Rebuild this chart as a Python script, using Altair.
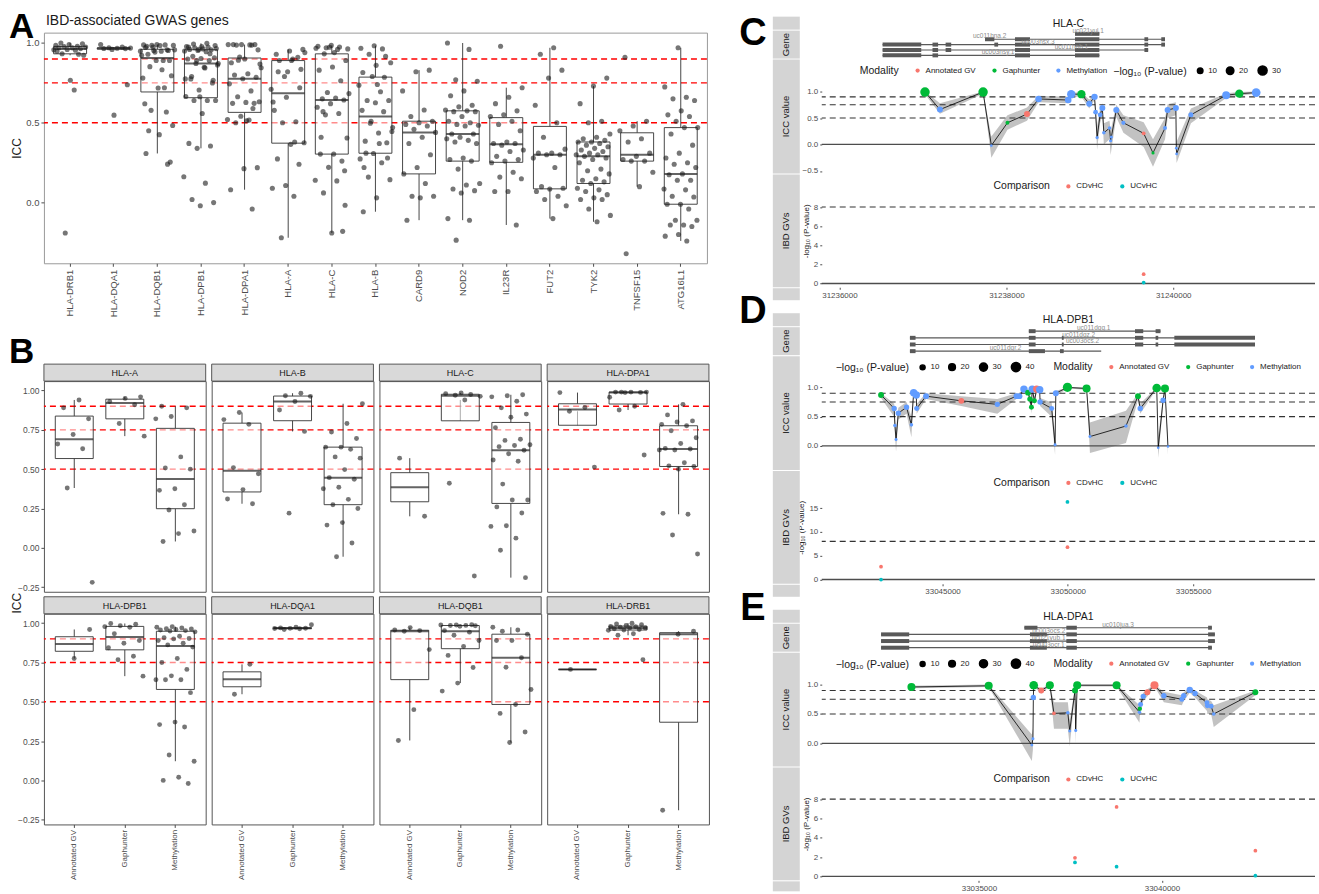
import altair as alt
import pandas as pd

FONT = "Liberation Sans"
GV, GH, ME = "Annotated GV", "Gaphunter", "Methylation"
MODS = [GV, GH, ME]
MOD_COLORS = ["#F8766D", "#00BA38", "#619CFF"]
CMPS = ["CDvHC", "UCvHC"]
CMP_COLORS = ["#F8766D", "#00BFC4"]
REF_ICC = [0.5, 0.75, 0.9]

# ---------------- Panel B data (ICC by HLA gene and modality) ----------------
b_A_gv = [0.94, 0.89, 0.82, 0.72, 0.66, 0.63, 0.38, -0.22]
b_A_gap = [0.96, 0.95, 0.93, 0.91, 0.79, 0.71]
b_A_met = [0.90, 0.89, 0.835, 0.82, 0.578, 0.507, 0.50, 0.375, 0.365, 0.274, 0.24, 0.107, 0.09, 0.04]
b_B_gv = [0.86, 0.815, 0.785, 0.51, 0.47, 0.37, 0.31, 0.28]
b_B_gap = [0.983, 0.967, 0.963, 0.93, 0.876, 0.74, 0.22]
b_B_met = [0.916, 0.79, 0.736, 0.695, 0.64, 0.64, 0.626, 0.578, 0.57, 0.497, 0.446, 0.436, 0.385, 0.375,
           0.308, 0.274, 0.25, 0.16, 0.144, 0.03, -0.057]
b_C_gv = [0.57, 0.20]
b_C_gap = [0.985, 0.98, 0.975, 0.97, 0.963, 0.94, 0.41, -0.18]
b_C_met = [0.973, 0.967, 0.96, 0.932, 0.89, 0.85, 0.83, 0.764, 0.69, 0.683, 0.655, 0.65, 0.643, 0.62, 0.598,
           0.558, 0.55, 0.405, 0.304, 0.304, 0.26, 0.221, 0.14, 0.136, 0.061, -0.016, -0.19]
b_DPA1_gv = [0.987, 0.892, 0.868, 0.513]
b_DPA1_gap = [0.99, 0.99, 0.99, 0.99, 0.988, 0.987, 0.957, 0.90, 0.876, 0.59]
b_DPA1_met = [0.912, 0.845, 0.807, 0.80, 0.785, 0.776, 0.744, 0.70, 0.663, 0.632, 0.628, 0.622, 0.622, 0.541,
              0.521, 0.517, 0.50, 0.219, 0.213, 0.081, -0.04]
b_DPB1_gv = [0.96, 0.775]
b_DPB1_gap = [0.998, 0.994, 0.984, 0.978, 0.974, 0.933, 0.89, 0.872, 0.844, 0.79, 0.767, 0.663]
b_DPB1_met = [0.978, 0.974, 0.97, 0.965, 0.963, 0.96, 0.957, 0.953, 0.95, 0.945, 0.917, 0.907, 0.903, 0.90,
              0.89, 0.872, 0.862, 0.848, 0.775, 0.75, 0.706, 0.665, 0.64, 0.64, 0.64, 0.558, 0.371, 0.355,
              0.34, 0.162, 0.122, 0.02, 0.0, -0.02]
b_DQA1_gv = [0.738, 0.548]
b_DQA1_gap = [0.99, 0.974, 0.97, 0.968, 0.967, 0.966, 0.965, 0.96]
b_DQA1_met = []
b_DQB1_gv = [0.972, 0.957, 0.953, 0.949, 0.832, 0.45, 0.254]
b_DQB1_gap = [0.99, 0.988, 0.988, 0.986, 0.985, 0.984, 0.98, 0.953, 0.943, 0.923, 0.89, 0.852, 0.795, 0.718,
              0.619, 0.568]
b_DQB1_met = [0.974, 0.957, 0.949, 0.93, 0.89, 0.89, 0.78, 0.72, 0.578, 0.483, 0.426, 0.308, 0.241]
b_DRB1_gv = [0.706]
b_DRB1_gap = [1.0, 0.995, 0.99, 0.985, 0.98, 0.978, 0.975, 0.97, 0.97, 0.965, 0.96, 0.957, 0.955, 0.933,
              0.923, 0.767]
b_DRB1_met = [0.949, 0.93, -0.19]

HLA_SETS = {
    "HLA-A": (b_A_gv, b_A_gap, b_A_met),
    "HLA-B": (b_B_gv, b_B_gap, b_B_met),
    "HLA-C": (b_C_gv, b_C_gap, b_C_met),
    "HLA-DPA1": (b_DPA1_gv, b_DPA1_gap, b_DPA1_met),
    "HLA-DPB1": (b_DPB1_gv, b_DPB1_gap, b_DPB1_met),
    "HLA-DQA1": (b_DQA1_gv, b_DQA1_gap, b_DQA1_met),
    "HLA-DQB1": (b_DQB1_gv, b_DQB1_gap, b_DQB1_met),
    "HLA-DRB1": (b_DRB1_gv, b_DRB1_gap, b_DRB1_met),
}
B_GENES = ["HLA-A", "HLA-B", "HLA-C", "HLA-DPA1", "HLA-DPB1", "HLA-DQA1", "HLA-DQB1", "HLA-DRB1"]

# ---------------- Panel A data (other IBD GWAS genes) ----------------
a_card9 = [0.83, 0.82, 0.70, 0.58, 0.54, 0.51, 0.50, 0.49, 0.48, 0.46, 0.44, 0.41, 0.37, 0.30, 0.22, 0.18,
           0.12, 0.04, 0.04, 0.03, -0.11]
a_nod2 = [1.0, 0.96, 0.77, 0.76, 0.70, 0.67, 0.61, 0.60, 0.58, 0.575, 0.57, 0.57, 0.54, 0.51, 0.50, 0.49,
          0.485, 0.48, 0.43, 0.43, 0.41, 0.40, 0.39, 0.38, 0.37, 0.28, 0.27, 0.26, 0.21, 0.12, 0.11, 0.085,
          0.075, 0.06, -0.10, -0.11, -0.235]
a_il23r = [0.98, 0.72, 0.66, 0.62, 0.575, 0.55, 0.54, 0.51, 0.49, 0.45, 0.38, 0.37, 0.37, 0.36, 0.33, 0.32,
           0.29, 0.27, 0.26, 0.25, 0.19, 0.16, 0.15, 0.07, 0.07, -0.14]
a_fut2 = [0.97, 0.93, 0.83, 0.78, 0.61, 0.50, 0.41, 0.335, 0.31, 0.31, 0.30, 0.30, 0.28, 0.22, 0.10, 0.09,
          0.085, 0.07, 0.04, 0.02, -0.02, -0.10]
a_tyk2 = [0.78, 0.73, 0.62, 0.51, 0.50, 0.43, 0.41, 0.40, 0.39, 0.38, 0.38, 0.37, 0.36, 0.35, 0.34, 0.33,
          0.32, 0.31, 0.30, 0.30, 0.29, 0.28, 0.27, 0.25, 0.21, 0.20, 0.18, 0.15, 0.14, 0.13, 0.12, 0.09,
          0.08, 0.07, 0.05, 0.03, 0.02, 0.02, -0.04, -0.08, -0.12]
a_tnfsf15 = [0.91, 0.51, 0.48, 0.45, 0.40, 0.38, 0.31, 0.29, 0.27, 0.26, 0.26, 0.19, 0.10, -0.32]
a_atg16l1 = [0.97, 0.725, 0.66, 0.65, 0.64, 0.575, 0.55, 0.54, 0.51, 0.47, 0.47, 0.43, 0.36, 0.31, 0.28,
             0.25, 0.24, 0.22, 0.18, 0.175, 0.14, 0.14, 0.085, 0.08, 0.04, 0.035, -0.01, -0.01, -0.04,
             -0.11, -0.11, -0.14, -0.14, -0.15, -0.20, -0.21, -0.24]
OTHER_SETS = {"CARD9": a_card9, "NOD2": a_nod2, "IL23R": a_il23r, "FUT2": a_fut2, "TYK2": a_tyk2,
              "TNFSF15": a_tnfsf15, "ATG16L1": a_atg16l1}
A_ORDER = ["HLA-DRB1", "HLA-DQA1", "HLA-DQB1", "HLA-DPB1", "HLA-DPA1", "HLA-A", "HLA-C", "HLA-B",
           "CARD9", "NOD2", "IL23R", "FUT2", "TYK2", "TNFSF15", "ATG16L1"]

# ---------------- Panel C (HLA-C) ----------------
c_pos = [31237025, 31237204, 31237721, 31237820, 31238013, 31238247, 31238386, 31238741, 31238777, 31238899,
         31238993, 31239056, 31239069, 31239087, 31239123, 31239150, 31239168, 31239236, 31239249, 31239258,
         31239317, 31239402, 31239645, 31239757, 31239901, 31239932, 31240031, 31240036, 31240040, 31240211,
         31240633, 31240791, 31240993]
c_icc = [0.99, 0.66, 0.99, -0.02, 0.41, 0.575, 0.86, 0.84, 0.95, 0.95, 0.77, 0.90, 0.61, 0.13, 0.56, 0.69,
         0.22, 0.31, 0.07, 0.14, 0.65, 0.41, 0.21, -0.16, 0.31, 0.65, 0.69, -0.07, -0.18, 0.56, 0.93, 0.96, 0.98]
c_lo = [0.95, 0.58, 0.96, -0.25, 0.28, 0.45, 0.80, 0.78, 0.90, 0.90, 0.68, 0.84, 0.45, -0.10, 0.40, 0.55,
        0.00, 0.10, -0.20, -0.10, 0.52, 0.22, -0.05, -0.42, 0.10, 0.50, 0.55, -0.25, -0.35, 0.40, 0.88, 0.92, 0.96]
c_hi = [1.00, 0.78, 1.00, 0.15, 0.55, 0.70, 0.92, 0.90, 0.98, 0.98, 0.85, 0.94, 0.72, 0.35, 0.68, 0.78,
        0.40, 0.45, 0.25, 0.32, 0.75, 0.55, 0.42, 0.10, 0.50, 0.76, 0.80, 0.15, 0.05, 0.68, 0.97, 0.99, 1.00]
c_mod = [GH, ME, GH, ME, GH, GV, ME, ME, ME, GH, ME, ME, ME, ME, ME, ME, ME, ME, ME, ME, ME, ME, GV, GH,
         ME, ME, ME, ME, ME, ME, ME, GH, ME]
c_p = [33, 12, 33, 1, 4, 12, 15, 15, 25, 25, 12, 14, 7, 2, 7, 12, 3, 3, 2, 2, 12, 5, 4, 2, 4, 12, 12, 1, 1,
       8, 22, 25, 28]
c_gwas_pos = [31239645, 31239645]
c_gwas_p = [0.97, 0.1]
c_gwas_cmp = ["CDvHC", "UCvHC"]
c_tx_row = [1, 2, 3, 4, 5]
c_tx_start = [31238822, 31237744, 31236517, 31236517, 31236517]
c_tx_end = [31239114, 31239901, 31239901, 31239699, 31239114]
c_tx_name = ["uc021yul.1", "uc011hna.2", "uc003nsx.3", "uc011hnb.1", "uc003nsy.1"]
c_tx_lab = [31238980, 31237800, 31238380, 31238780, 31237900]
c_ex_row = [1, 2, 2, 2, 2, 2, 3, 3, 3, 3, 3, 3, 3, 3, 4, 4, 4, 4, 4, 4, 5, 5, 5, 5]
c_ex_start = [31238822, 31237744, 31238103, 31238822, 31239654, 31239856, 31236517, 31237115, 31237272,
              31237856, 31238103, 31238822, 31239654, 31239856, 31236517, 31237115, 31237272, 31238103,
              31238822, 31239654, 31236517, 31237115, 31238103, 31238822]
c_ex_end = [31239114, 31237856, 31238283, 31239114, 31239699, 31239901, 31236980, 31237182, 31237339,
            31237901, 31238283, 31239114, 31239699, 31239901, 31236980, 31237182, 31237339, 31238283,
            31239114, 31239699, 31236980, 31237182, 31238283, 31239114]

# ---------------- Panel D (HLA-DPB1) ----------------
d_pos = [33042545, 33043069, 33043099, 33043144, 33043234, 33043563, 33043757, 33043847, 33043952, 33043967,
         33044341, 33045749, 33047186, 33047949, 33048069, 33048248, 33048413, 33048488, 33048548, 33048578,
         33048668, 33048757, 33048877, 33048892, 33049356, 33049491, 33049521, 33049985, 33050748, 33050883,
         33052320, 33052799, 33052889, 33053548, 33053608, 33053802, 33053877, 33053997]
d_icc = [0.87, 0.64, 0.35, 0.11, 0.56, 0.66, 0.36, 0.91, 0.87, 0.64, 0.85, 0.77, 0.71, 0.85, 0.85, 0.97,
         0.91, 0.80, 0.66, 0.97, 0.77, 0.97, 0.96, 0.75, 0.64, 0.02, 0.90, 1.0, 0.98, 0.16, 0.34, 0.85, 0.64,
         0.99, -0.03, 0.78, 0.98, -0.01]
d_lo = [0.82, 0.50, 0.20, -0.10, 0.45, 0.55, 0.15, 0.85, 0.80, 0.55, 0.80, 0.68, 0.55, 0.80, 0.80, 0.94,
        0.86, 0.72, 0.55, 0.94, 0.70, 0.94, 0.93, 0.68, 0.50, -0.15, 0.85, 0.98, 0.96, -0.12, 0.05, 0.78,
        0.55, 0.97, -0.20, 0.70, 0.96, -0.15]
d_hi = [0.90, 0.72, 0.50, 0.30, 0.65, 0.75, 0.50, 0.95, 0.92, 0.72, 0.90, 0.85, 0.80, 0.90, 0.90, 0.99,
        0.95, 0.86, 0.75, 0.99, 0.84, 0.99, 0.98, 0.82, 0.74, 0.20, 0.94, 1.00, 1.00, 0.40, 0.60, 0.90,
        0.72, 1.00, 0.15, 0.85, 1.00, 0.12]
d_mod = [GH, ME, ME, ME, ME, ME, ME, ME, ME, ME, ME, GV, ME, ME, ME, ME, GH, GH, GH, ME, GH, GV, ME, ME,
         ME, ME, ME, GH, GH, ME, ME, GH, ME, GH, ME, ME, GH, ME]
d_p = [15, 12, 4, 2, 12, 12, 4, 25, 25, 10, 15, 15, 12, 15, 15, 25, 15, 12, 10, 25, 10, 25, 25, 12, 10, 2,
       15, 40, 30, 2, 4, 15, 12, 35, 1, 12, 30, 1]
d_gwas_pos = [33042545, 33042545, 33049985, 33049985]
d_gwas_p = [2.7, 0.0, 6.8, 16.3]
d_gwas_cmp = ["CDvHC", "UCvHC", "CDvHC", "UCvHC"]
d_tx_row = [1, 2, 3, 4]
d_tx_start = [33048443, 33043698, 33043698, 33043698]
d_tx_end = [33053698, 33057470, 33057470, 33051332]
d_tx_name = ["uc011dqq.1", "uc011dqz.2", "uc003ocs.2", "uc011dqr.2"]
d_tx_lab = [33051033, 33050434, 33050584, 33047515]
d_ex_row = [1, 1, 1, 2, 2, 2, 2, 2, 2, 3, 3, 3, 3, 3, 3, 4, 4, 4]
d_ex_start = [33048443, 33052680, 33053503, 33043698, 33048443, 33049761, 33052680, 33053503, 33054251,
              33043698, 33048443, 33049761, 33052680, 33053503, 33054251, 33043698, 33048443, 33049686]
d_ex_end = [33048713, 33053009, 33053698, 33043922, 33048713, 33049835, 33053009, 33053608, 33057470,
            33043922, 33048713, 33049835, 33053009, 33053608, 33057470, 33043922, 33049087, 33049835]

# ---------------- Panel E (HLA-DPA1) ----------------
e_pos = [33033156, 33035266, 33036445, 33036475, 33036486, 33036496, 33036701, 33036937, 33037049, 33037428,
         33037480, 33037623, 33037643, 33037684, 33038760, 33039385, 33039395, 33039416, 33039488, 33039601,
         33039795, 33040051, 33040543, 33040594, 33040758, 33040902, 33041230, 33041240, 33041342, 33041414,
         33042551]
e_icc = [0.96, 0.98, -0.03, 0.08, 0.78, 0.99, 0.90, 0.99, 0.51, 0.52, 0.21, 0.90, 0.22, 0.99, 0.99, 0.53,
         0.59, 0.66, 0.80, 0.87, 0.99, 0.81, 0.75, 0.81, 0.91, 0.85, 0.69, 0.64, 0.63, 0.50, 0.87]
e_lo = [0.94, 0.96, -0.30, -0.10, 0.70, 0.97, 0.85, 0.97, 0.25, 0.25, -0.05, 0.85, 0.00, 0.97, 0.97, 0.35,
        0.45, 0.55, 0.72, 0.80, 0.97, 0.70, 0.65, 0.72, 0.86, 0.78, 0.55, 0.50, 0.50, 0.28, 0.82]
e_hi = [0.98, 1.00, 0.15, 0.25, 0.85, 1.00, 0.94, 1.00, 0.70, 0.70, 0.40, 0.94, 0.40, 1.00, 1.00, 0.65,
        0.70, 0.75, 0.86, 0.92, 1.00, 0.88, 0.82, 0.87, 0.95, 0.90, 0.78, 0.75, 0.72, 0.65, 0.90]
e_mod = [GH, GH, ME, ME, ME, GH, GV, GH, GV, ME, ME, GH, ME, GH, GH, ME, GH, ME, ME, GV, GV, ME, ME, ME,
         ME, ME, ME, ME, ME, ME, GH]
e_p = [30, 30, 2, 2, 12, 35, 15, 30, 4, 4, 2, 15, 2, 30, 30, 4, 7, 10, 12, 15, 30, 12, 10, 12, 18, 12, 10,
       10, 10, 4, 15]
e_gwas_pos = [33037623, 33037623, 33038760, 33038760, 33042551, 33042551]
e_gwas_p = [1.93, 1.45, 7.2, 1.0, 2.66, 0.07]
e_gwas_cmp = ["CDvHC", "UCvHC", "CDvHC", "UCvHC", "CDvHC", "UCvHC"]
e_tx_row = [1, 2, 3, 4]
e_tx_start = [33036240, 33032326, 33032326, 33032326]
e_tx_end = [33041363, 33041445, 33041445, 33041363]
e_tx_name = ["uc010jua.3", "uc003ocs.2", "uc021yub.1", "uc003ocr.1"]
e_tx_lab = [33038801, 33036906, 33036906, 33036906]
e_ex_row = [1, 1, 1, 2, 2, 2, 2, 3, 3, 3, 3, 4, 4, 4, 4]
e_ex_start = [33036240, 33037387, 33041260, 33032326, 33036393, 33037387, 33041260, 33032326, 33036393,
              33037387, 33041260, 33032326, 33036393, 33037387, 33041260]
e_ex_end = [33036598, 33037674, 33041363, 33033094, 33036855, 33037674, 33041445, 33033094, 33036855,
            33037674, 33041445, 33033094, 33036855, 33037674, 33041363]


# ---------------- helpers ----------------
def jitter(n, k):
    # deterministic horizontal jitter (fraction of a category band) - styling only
    return [(((i + 1) * 0.6180339887 + k * 0.2718) % 1.0 - 0.5) * 0.8 for i in range(n)]


def ind(c):
    return c.resolve_scale(color="independent", size="independent", xOffset="independent")


ONE = pd.DataFrame({"a": [0]})


def txt(t, x, y, **kw):
    return alt.Chart(pd.DataFrame({"t": [t]})).mark_text(font=FONT, **kw).encode(
        text="t:N", x=alt.value(x), y=alt.value(y))


def rect(x1, x2, y1, y2, **kw):
    return alt.Chart(ONE).mark_rect(**kw).encode(
        x=alt.value(x1), x2=alt.value(x2), y=alt.value(y1), y2=alt.value(y2))


NOVIEW = alt.ViewBackground(stroke="transparent")
LAB = "#4d4d4d"
LETTER = dict(fontSize=35, fontWeight="bold", baseline="alphabetic", color="black")

# horizontal layout (pixels): plot-area left edges of the left and right columns
A_LEFT, R_LEFT = 43, 822

# ---------------- Panel A ----------------
A_W, A_H = 664, 231
rowsA = []
for gi, g in enumerate(A_ORDER):
    vals = sum(HLA_SETS[g], []) if g in HLA_SETS else OTHER_SETS[g]
    for v, j in zip(vals, jitter(len(vals), gi)):
        rowsA.append({"gene": g, "icc": v, "jit": j})
dfA = pd.DataFrame(rowsA)

BOX_STYLE = dict(extent=1.5, outliers=False, color="#222222",
                 box={"fill": "white", "fillOpacity": 0.55, "stroke": "#333333", "strokeWidth": 0.9},
                 median={"color": "#222222", "fill": "#222222", "thickness": 2},
                 rule={"color": "#333333", "strokeWidth": 0.9})

a_x = alt.X("gene:N", scale=alt.Scale(type="band", domain=A_ORDER, paddingInner=0, paddingOuter=0.1),
            axis=alt.Axis(title=None, labelAngle=-90, labelFontSize=9.5, labelColor=LAB, tickColor=LAB,
                          tickSize=3, domain=False, labelPadding=3))
a_y = alt.Y("icc:Q", scale=alt.Scale(domain=[-0.38, 1.065], nice=False, zero=False),
            axis=alt.Axis(title="ICC", values=[0, 0.5, 1.0], format=".1f", labelFontSize=9.5,
                          labelColor=LAB, tickSize=3, tickColor=LAB, domain=False, grid=False,
                          titleFontSize=12, titleFontWeight="normal", titleColor="#1a1a1a",
                          titleX=-20, titleY=A_H / 2))
a_rules = alt.Chart(pd.DataFrame({"icc": REF_ICC})).mark_rule(
    color="#ff0000", strokeDash=[6, 4], strokeWidth=1.4).encode(y=a_y)
a_box = alt.Chart(dfA).mark_boxplot(size=33, **BOX_STYLE).encode(x=a_x, y=a_y)
a_pts = alt.Chart(dfA).mark_circle(size=26, color="#1a1a1a", opacity=0.6).encode(
    x=a_x, xOffset=alt.XOffset("jit:Q", scale=alt.Scale(domain=[-0.5, 0.5])), y=a_y)
a_chart = alt.layer(a_rules, a_box, a_pts).properties(
    width=A_W, height=A_H, view=alt.ViewBackground(stroke="#9a9a9a"))
# empty head band above panel A (its letter and title are drawn from the right column, see below)
a_head = alt.layer(rect(0, 10, 0, 15, opacity=0)).properties(width=A_W, height=15, view=NOVIEW)

# ---------------- Panel B ----------------
B_W, B_H, B_SH, B_GAP = 162, 211, 17, 5
b_cells = []
for gi, gene in enumerate(B_GENES):
    r, c = divmod(gi, 4)
    recs = []
    for mi, (m, vals) in enumerate(zip(MODS, HLA_SETS[gene])):
        for v, j in zip(vals, jitter(len(vals), gi * 3 + mi)):
            recs.append({"mod": m, "icc": v, "jit": j})
    df = pd.DataFrame(recs)
    if r == 1:
        xax = alt.Axis(title=None, labelAngle=-90, labelFontSize=8, labelColor=LAB, tickSize=3,
                       tickColor=LAB, domain=False, labelPadding=2)
    else:
        xax = None
    bx = alt.X("mod:N", scale=alt.Scale(type="band", domain=MODS, paddingInner=0, paddingOuter=0.1), axis=xax)
    ykw = dict(values=[-0.25, 0, 0.25, 0.5, 0.75, 1.0], format=".2f", labelFontSize=8.5, labelColor=LAB,
               tickSize=3, tickColor=LAB, domain=False, grid=False)
    if gi == 0:
        yax = alt.Axis(title="ICC", titleX=-20, titleY=(2 * B_H + B_GAP + B_SH) / 2, titleFontSize=12,
                       titleFontWeight="normal", titleColor="#1a1a1a", **ykw)
    elif c == 0:
        yax = alt.Axis(title=None, **ykw)
    else:
        yax = None
    by = alt.Y("icc:Q", scale=alt.Scale(domain=[-0.28, 1.06], nice=False, zero=False), axis=yax)
    rules = alt.Chart(pd.DataFrame({"icc": REF_ICC})).mark_rule(
        color="#ff0000", strokeDash=[6, 4], strokeWidth=1.4).encode(y=by)
    box = alt.Chart(df).mark_boxplot(size=38, **BOX_STYLE).encode(x=bx, y=by)
    pts = alt.Chart(df).mark_circle(size=24, color="#1a1a1a", opacity=0.6).encode(
        x=bx, xOffset=alt.XOffset("jit:Q", scale=alt.Scale(domain=[-0.5, 0.5])), y=by)
    layers = [rules, box, pts,
              rect(0, B_W, -B_SH, 0, fill="#d9d9d9", stroke="#555555", strokeWidth=1),
              txt(gene, B_W / 2, -B_SH / 2 + 0.5, fontSize=9, color="#1a1a1a", baseline="middle")]
    if gi == 0:
        layers.append(txt("B", -35, -B_SH - 1, align="left", **LETTER))
    b_cells.append(alt.layer(*layers).properties(width=B_W, height=B_H,
                                                 view=alt.ViewBackground(stroke="#555555")))
b_grid = ind(alt.concat(*b_cells, columns=4, spacing={"row": B_GAP + B_SH, "column": 6}, bounds="flush"))

left = ind(alt.vconcat(ind(alt.vconcat(a_head, a_chart, spacing=1, bounds="flush")), b_grid, spacing=16))

# ---------------- Panels C, D, E ----------------
R_W = 494
H_TOP, H_GENE, H_ICC, H_IBD = 13, 28, 114, 113
STRIP_FILL = "#d4d4d4"


def strip_bg(h, label=""):
    layers = [rect(-49, -22, 0, h, fill=STRIP_FILL)]
    if label:
        layers.append(txt(label, -35.5, h / 2, angle=270, fontSize=9.5, color="#1a1a1a", baseline="middle"))
    return layers


def title_chart(gene, letter, letter_y, extra=()):
    layers = strip_bg(H_TOP) + [
        txt(gene, R_W / 2, 7, fontSize=10.5, color="#1a1a1a", baseline="middle"),
        txt(letter, -69, letter_y, align="center", fontSize=38, fontWeight="bold", baseline="alphabetic",
            color="black")] + list(extra)
    return alt.layer(*layers).properties(width=R_W, height=H_TOP, view=NOVIEW)


def spacer_chart(h, piece=12):
    return alt.layer(*strip_bg(piece)).properties(width=R_W, height=h, view=NOVIEW)


def gene_track(row, start, end, name, lab, ex_row, ex_start, ex_end, xdom):
    tx = pd.DataFrame({"row": row, "start": start, "end": end, "name": name, "lx": lab})
    ex = pd.DataFrame({"row": ex_row, "start": ex_start, "end": ex_end})
    n = max(row)
    xs = alt.Scale(domain=xdom, nice=False, zero=False)
    ys = alt.Scale(domain=[0.4, n + 0.6], reverse=True, nice=False, zero=False)
    intr = alt.Chart(tx).mark_rule(color="#595959", strokeWidth=1.2).encode(
        x=alt.X("start:Q", scale=xs, axis=None), x2="end:Q", y=alt.Y("row:Q", scale=ys, axis=None))
    exo = alt.Chart(ex).mark_rule(color="#595959", strokeWidth=4, strokeCap="butt").encode(
        x=alt.X("start:Q", scale=xs, axis=None), x2="end:Q", y=alt.Y("row:Q", scale=ys, axis=None))
    lab_l = alt.Chart(tx).mark_text(font=FONT, fontSize=6.5, color="#8c8c8c", dy=-3).encode(
        x=alt.X("lx:Q", scale=xs, axis=None), y=alt.Y("row:Q", scale=ys, axis=None), text="name:N")
    return alt.layer(*strip_bg(H_GENE, "Gene"), intr, exo, lab_l).properties(
        width=R_W, height=H_GENE, view=NOVIEW)


def icc_track(pos, icc, lo, hi, mod, p, xdom, ydom, yticks, size_dom, size_vals, color_first):
    df = pd.DataFrame({"pos": pos, "icc": icc, "lo": lo, "hi": hi, "mod": mod, "p": p})
    xs = alt.Scale(domain=xdom, nice=False, zero=False)
    ys = alt.Scale(domain=ydom, nice=False, zero=False)
    yax = alt.Axis(title=None, values=yticks, format=".1f", labelFontSize=8, labelColor=LAB, tickSize=2,
                   tickColor=LAB, domain=False, grid=False, labelPadding=2)
    X = alt.X("pos:Q", scale=xs, axis=None)
    if color_first:
        cx, sx = 38, 292
    else:
        cx, sx = 232, 14
    color_leg = alt.Legend(title="Modality", orient="none", legendX=cx, legendY=7, direction="horizontal",
                           titleOrient="left", titleFontSize=10.5, titleFontWeight="normal",
                           titleColor="#1a1a1a", labelFontSize=8, labelColor="#1a1a1a", symbolSize=18,
                           symbolType="circle", columnPadding=14, titlePadding=14)
    size_leg = alt.Legend(title="\u2212log\u2081\u2080 (P-value)", orient="none", legendX=sx, legendY=5,
                          direction="horizontal", titleOrient="left", titleFontSize=10.5,
                          titleFontWeight="normal", titleColor="#1a1a1a", labelFontSize=8,
                          labelColor="#1a1a1a", values=size_vals, symbolFillColor="black",
                          symbolStrokeColor="black", symbolOpacity=1, symbolType="circle",
                          columnPadding=6, titlePadding=9)
    ribbon = alt.Chart(df).mark_area(color="#b3b3b3", opacity=0.8).encode(
        x=X, y=alt.Y("lo:Q", scale=ys, axis=yax), y2="hi:Q")
    hl = alt.Chart(pd.DataFrame({"icc": REF_ICC})).mark_rule(
        color="#333333", strokeDash=[6, 4], strokeWidth=1.1).encode(y=alt.Y("icc:Q", scale=ys, axis=yax))
    zl = alt.Chart(pd.DataFrame({"icc": [0.0]})).mark_rule(color="#4d4d4d", strokeWidth=1.3).encode(
        y=alt.Y("icc:Q", scale=ys, axis=yax))
    ln = alt.Chart(df).mark_line(color="black", strokeWidth=0.8).encode(
        x=X, y=alt.Y("icc:Q", scale=ys, axis=yax))
    pts = alt.Chart(df).mark_circle(opacity=1).encode(
        x=X, y=alt.Y("icc:Q", scale=ys, axis=yax),
        color=alt.Color("mod:N", scale=alt.Scale(domain=MODS, range=MOD_COLORS), legend=color_leg),
        size=alt.Size("p:Q", scale=alt.Scale(domain=size_dom, range=[5, 95]), legend=size_leg))
    return alt.layer(*strip_bg(H_ICC, "ICC value"), ribbon, hl, zl, ln, pts).properties(
        width=R_W, height=H_ICC, view=NOVIEW)


def ibd_track(pos, pv, cmp, xdom, ydom, yticks, xticks):
    df = pd.DataFrame({"pos": pos, "p": pv, "cmp": cmp})
    xs = alt.Scale(domain=xdom, nice=False, zero=False)
    ys = alt.Scale(domain=ydom, nice=False, zero=False)
    yax = alt.Axis(title="-log\u2081\u2080 (P-value)", values=yticks, format="d", labelFontSize=8,
                   labelColor=LAB, tickSize=2, tickColor=LAB, domain=False, grid=False, labelPadding=2,
                   titleFontSize=8, titleFontWeight="normal", titleColor="#1a1a1a", titlePadding=3)
    X = alt.X("pos:Q", scale=xs, axis=alt.Axis(title=None, values=xticks, format="d", labelFontSize=8,
                                               labelColor=LAB, tickSize=2, tickColor=LAB, domain=False,
                                               grid=False, labelPadding=2))
    leg = alt.Legend(title="Comparison", orient="none", legendX=172, legendY=8, direction="horizontal",
                     titleOrient="left", titleFontSize=10.5, titleFontWeight="normal", titleColor="#1a1a1a",
                     labelFontSize=8, labelColor="#1a1a1a", symbolSize=18, symbolType="circle",
                     columnPadding=14, titlePadding=14)
    r8 = alt.Chart(pd.DataFrame({"p": [8.0]})).mark_rule(
        color="#333333", strokeDash=[6, 4], strokeWidth=1.1).encode(y=alt.Y("p:Q", scale=ys, axis=yax))
    r0 = alt.Chart(pd.DataFrame({"p": [0.0]})).mark_rule(color="#4d4d4d", strokeWidth=1.3).encode(
        y=alt.Y("p:Q", scale=ys, axis=yax))
    pts = alt.Chart(df).mark_circle(size=14, opacity=1).encode(
        x=X, y=alt.Y("p:Q", scale=ys, axis=yax),
        color=alt.Color("cmp:N", scale=alt.Scale(domain=CMPS, range=CMP_COLORS), legend=leg))
    return alt.layer(*strip_bg(H_IBD, "IBD GVs"), r8, r0, pts).properties(width=R_W, height=H_IBD, view=NOVIEW)


c_x = [31235788, 31241698]
d_x = [33040179, 33059865]
e_x = [33030706, 33044180]

# panel A's letter and heading live in the first right-hand chart (same top edge as panel A's head band)
a_decor = [
    txt("A", 8 - R_LEFT, 21, align="left", **LETTER),
    txt("IBD-associated GWAS genes", A_LEFT + 2 - R_LEFT, 8, fontSize=14, align="left", baseline="alphabetic",
        color="#1a1a1a"),
]

right_charts = [
    title_chart("HLA-C", "C", 28, extra=a_decor),
    gene_track(c_tx_row, c_tx_start, c_tx_end, c_tx_name, c_tx_lab, c_ex_row, c_ex_start, c_ex_end, c_x),
    icc_track(c_pos, c_icc, c_lo, c_hi, c_mod, c_p, c_x, [-0.547, 1.604], [-0.5, 0, 0.5, 1.0],
              [0, 35], [10, 20, 30], True),
    ibd_track(c_gwas_pos, c_gwas_p, c_gwas_cmp, c_x, [-0.39, 11.41], [0, 2, 4, 6, 8],
              [31236000, 31238000, 31240000]),
    spacer_chart(24),
    title_chart("HLA-DPB1", "D", 10),
    gene_track(d_tx_row, d_tx_start, d_tx_end, d_tx_name, d_tx_lab, d_ex_row, d_ex_start, d_ex_end, d_x),
    icc_track(d_pos, d_icc, d_lo, d_hi, d_mod, d_p, d_x, [-0.41, 1.533], [0, 0.5, 1.0],
              [0, 45], [10, 20, 30, 40], False),
    ibd_track(d_gwas_pos, d_gwas_p, d_gwas_cmp, d_x, [-0.9, 22.8], [0, 5, 10, 15],
              [33045000, 33050000, 33055000]),
    spacer_chart(24),
    title_chart("HLA-DPA1", "E", 10),
    gene_track(e_tx_row, e_tx_start, e_tx_end, e_tx_name, e_tx_lab, e_ex_row, e_ex_start, e_ex_end, e_x),
    icc_track(e_pos, e_icc, e_lo, e_hi, e_mod, e_p, e_x, [-0.395, 1.544], [0, 0.5, 1.0],
              [0, 45], [10, 20, 30, 40], False),
    ibd_track(e_gwas_pos, e_gwas_p, e_gwas_cmp, e_x, [-0.41, 11.28], [0, 2, 4, 6, 8],
              [33035000, 33040000]),
    spacer_chart(10, 10),
]
right = ind(alt.vconcat(*right_charts, spacing=1, bounds="flush"))

chart = ind(alt.hconcat(left, right, spacing=R_LEFT - A_LEFT, bounds="flush")).properties(
    padding={"left": 8, "top": 8, "right": 2, "bottom": 2}, background="white"
).configure(font=FONT).configure_axis(grid=False).configure_tick(color="#222222").configure_mark(
    color="#333333")

chart.save("out.html", embed_options={"renderer": "svg", "actions": False})
